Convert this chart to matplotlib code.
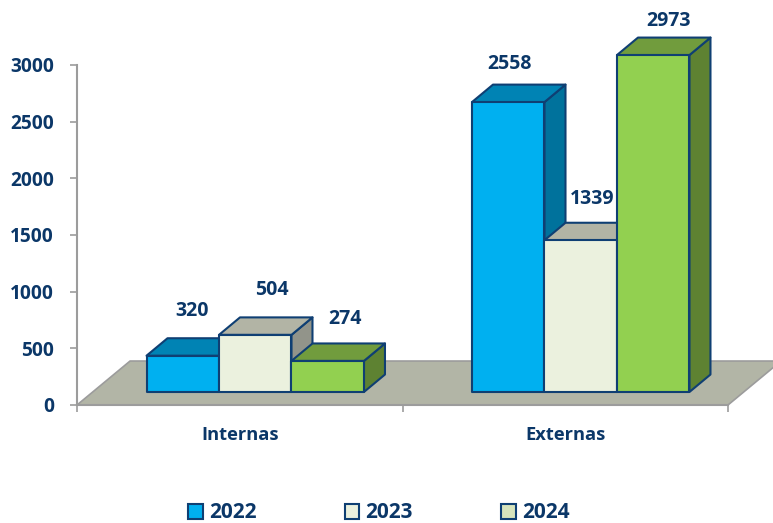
import matplotlib
matplotlib.use("Agg")
import matplotlib.pyplot as plt
from matplotlib.patches import Patch, Polygon

plt.rcParams['font.family'] = ['Open Sans', 'DejaVu Sans']

categories = ["Internas", "Externas"]
years = ["2022", "2023", "2024"]
values_2022 = [320, 2558]
values_2023 = [504, 1339]
values_2024 = [274, 2973]
y_ticks = [0, 500, 1000, 1500, 2000, 2500, 3000]

# label nudges in pixels, per year and category
label_dx = [[9, 1], [17, 11], [17, 15]]
label_dy = [[45, 38], [45, 41], [42, 34]]

TEXT = "#0B3768"
EDGE = "#0F3F73"
GREY = "#9C9C9C"
FLOOR = "#B2B5A6"
front = ["#00B0F0", "#EBF1DE", "#92D050"]
top = ["#0083B4", "#B2B4A5", "#719C3D"]
side = ["#00729C", "#92948A", "#5E8232"]
legend_fill = ["#00B0F0", "#EBF1DE", "#D7E4BC"]

BAR_W = 0.2227
DEPTH_X = 0.0645
DEPTH_Y = 154
BASE_X = 0.0476
BASE_Y = 115


def draw_bar(ax, x0, height, i):
    x1 = x0 + BAR_W
    y0 = BASE_Y
    y1 = BASE_Y + height
    style = dict(edgecolor=EDGE, linewidth=1.5, joinstyle="round", clip_on=False, zorder=3)
    ax.add_patch(Polygon([(x1, y0), (x1 + DEPTH_X, y0 + DEPTH_Y), (x1 + DEPTH_X, y1 + DEPTH_Y), (x1, y1)],
                         facecolor=side[i], **style))
    ax.add_patch(Polygon([(x0, y1), (x0 + DEPTH_X, y1 + DEPTH_Y), (x1 + DEPTH_X, y1 + DEPTH_Y), (x1, y1)],
                         facecolor=top[i], **style))
    ax.add_patch(Polygon([(x0, y0), (x1, y0), (x1, y1), (x0, y1)], facecolor=front[i], **style))


def main():
    fig = plt.figure(figsize=(7.73, 5.23), dpi=100)
    ax = fig.add_axes([77 / 773, 118 / 523, 651 / 773, 340 / 523])
    ax.set_xlim(-0.5, 1.5)
    ax.set_ylim(0, 3000)

    # floor of the 3D box
    ax.add_patch(Polygon([(-0.5, 0), (-0.337, 388), (1.663, 388), (1.5, 0)], facecolor=FLOOR,
                         edgecolor=GREY, linewidth=1.2, clip_on=False, zorder=1))

    series = [values_2022, values_2023, values_2024]
    for c in range(len(categories)):
        for i, values in enumerate(series):
            x0 = c + BASE_X + (i - 1.5) * BAR_W
            draw_bar(ax, x0, values[c], i)
            ax.annotate(str(values[c]), (x0 + BAR_W / 2, BASE_Y + values[c]),
                        xytext=(label_dx[i][c], label_dy[i][c]), textcoords="offset pixels",
                        ha="center", va="center", color=TEXT, fontsize=14, fontweight="bold",
                        annotation_clip=False, zorder=5)

    for name in ["top", "right"]:
        ax.spines[name].set_visible(False)
    for name in ["left", "bottom"]:
        ax.spines[name].set_color(GREY)
        ax.spines[name].set_linewidth(1.5)
        ax.spines[name].set_zorder(2)

    ax.set_yticks(y_ticks)
    ax.set_xticks([-0.5, 0.5, 1.5])
    ax.set_xticklabels([])
    ax.set_xticks([0, 1], minor=True)
    ax.set_xticklabels(categories, minor=True)
    ax.tick_params(axis="y", length=5, width=1.2, color=GREY, pad=11.5, labelcolor=TEXT, labelsize=13.8)
    ax.tick_params(axis="x", which="major", length=5, width=1.2, color=GREY)
    ax.tick_params(axis="x", which="minor", length=0, pad=15, labelcolor=TEXT, labelsize=13.2)
    for label in ax.get_yticklabels() + ax.get_xticklabels(minor=True):
        label.set_fontweight("bold")

    handles = [Patch(facecolor=legend_fill[i], edgecolor=EDGE, linewidth=1.5, label=years[i]) for i in range(3)]
    fig.legend(handles=handles, ncol=3, loc="center", bbox_to_anchor=(379 / 773, 10 / 523),
               frameon=False, handlelength=0.7, handleheight=0.7, handletextpad=0.3,
               columnspacing=4.24, prop={"size": 15, "weight": "bold"}, labelcolor=TEXT)

    fig.savefig("out.png", dpi=100, facecolor="white")


if __name__ == "__main__":
    main()
